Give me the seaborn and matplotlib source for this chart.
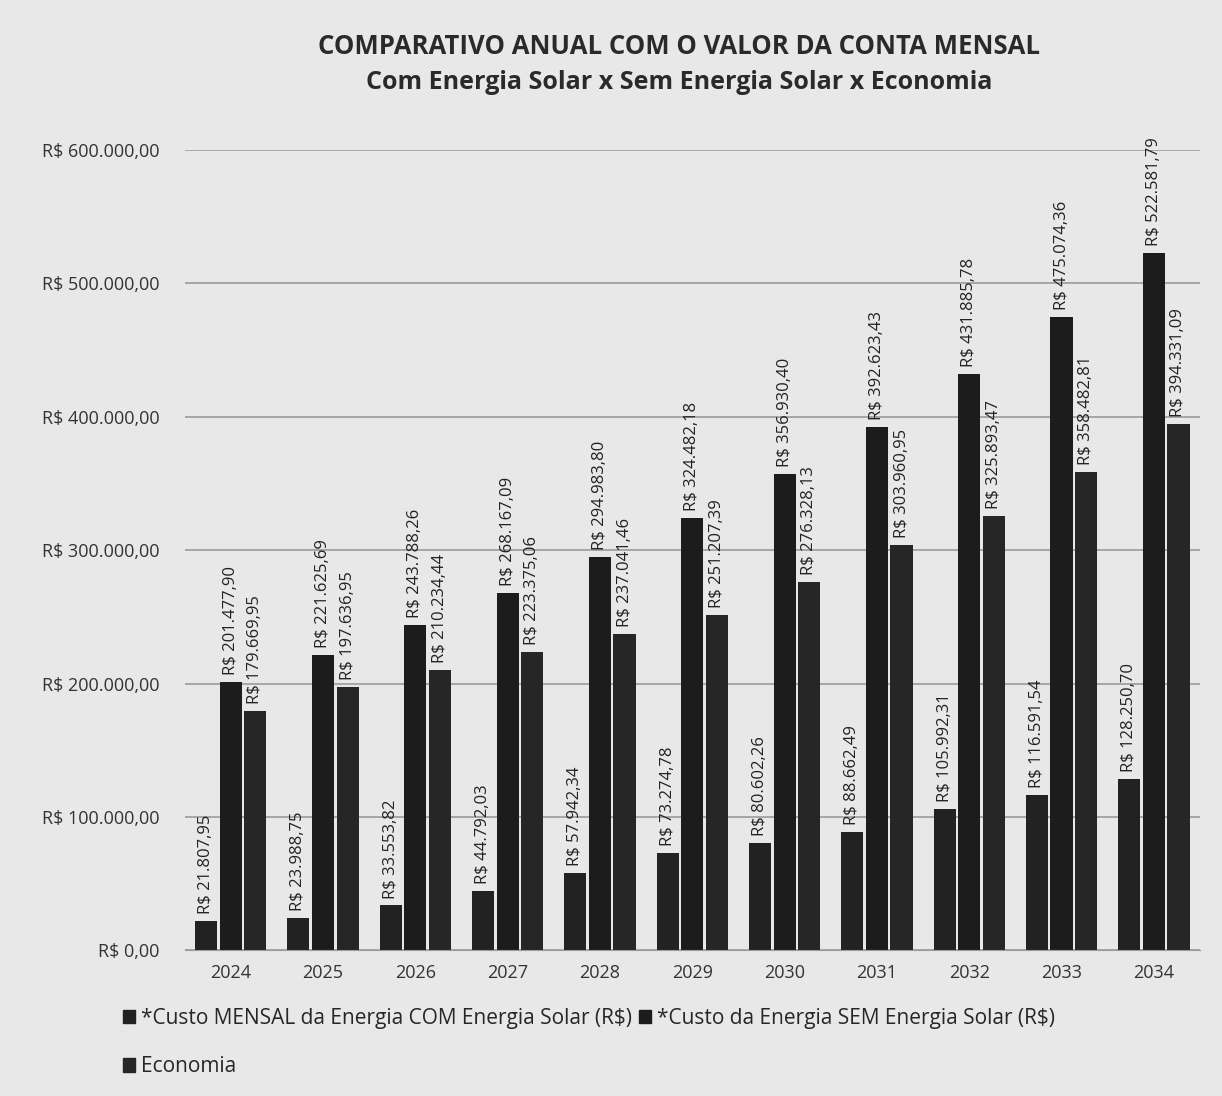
import pandas as pd
import numpy as np
import matplotlib.pyplot as plt
import seaborn as sns

# --------------------
# Data
# --------------------
anos = ["2024", "2025", "2026", "2027", "2028", "2029", "2030", "2031", "2032", "2033", "2034"]
com_solar = [21807.95, 23988.75, 33553.82, 44792.03, 57942.34, 73274.78,
             80602.26, 88662.49, 105992.31, 116591.54, 128250.70]
sem_solar = [201477.90, 221625.69, 243788.26, 268167.09, 294983.80, 324482.18,
             356930.40, 392623.43, 431885.78, 475074.36, 522581.79]
economia = [179669.95, 197636.95, 210234.44, 223375.06, 237041.46, 251207.39,
            276328.13, 303960.95, 325893.47, 358482.81, 394331.09]
series = ["*Custo MENSAL da Energia COM Energia Solar (R$)",
          "*Custo da Energia SEM Energia Solar (R$)",
          "Economia"]

df = pd.DataFrame({
    "Ano": anos * 3,
    "Serie": [series[0]] * len(anos) + [series[1]] * len(anos) + [series[2]] * len(anos),
    "Valor": com_solar + sem_solar + economia,
})


def brl(v):
    s = f"{v:,.2f}"
    return "R$ " + s.replace(",", "X").replace(".", ",").replace("X", ".")


# --------------------
# Plot
# --------------------
sns.set_style("white")
plt.rcParams["font.family"] = ["Open Sans", "DejaVu Sans"]

bg = "#e8e8e8"
fig = plt.figure(figsize=(12.22, 10.96), dpi=100, facecolor=bg)
ax = fig.add_axes([0.151, 0.133, 0.831, 0.73])
ax.set_facecolor(bg)

palette = ["#222222", "#1c1c1c", "#262626"]
sns.barplot(data=df, x="Ano", y="Valor", hue="Serie", palette=palette,
            width=0.8, gap=0.1, linewidth=0, ax=ax, legend=False)

for cont in ax.containers:
    labels = [brl(b.get_height()) for b in cont]
    ax.bar_label(cont, labels=labels, rotation=90, padding=5,
                 fontsize=12, color="#222222", clip_on=False)

ax.set_ylim(0, 600000)
ax.set_yticks(np.arange(0, 600001, 100000))
ax.set_yticklabels(["R$ 0,00" if v == 0 else brl(v) for v in np.arange(0, 600001, 100000)],
                   fontsize=13, color="#333333")
ax.tick_params(axis="x", labelsize=13, colors="#333333", length=0, pad=10)
ax.tick_params(axis="y", length=0, pad=18)
ax.yaxis.grid(True, color="#9a9a9a", linewidth=1.2)
ax.set_axisbelow(True)
ax.set_xlabel("")
ax.set_ylabel("")
for s in ["top", "right", "left"]:
    ax.spines[s].set_visible(False)
ax.spines["bottom"].set_color("#9a9a9a")

fig.text(0.556, 0.958, "COMPARATIVO ANUAL COM O VALOR DA CONTA MENSAL",
         ha="center", va="center", fontsize=18.5, fontweight="bold", color="#2a2a2a")
fig.text(0.556, 0.925, "Com Energia Solar x Sem Energia Solar x Economia",
         ha="center", va="center", fontsize=18, fontweight="bold", color="#2a2a2a")

# legend rows: first two on top, Economia below
handles = [plt.Rectangle((0, 0), 1, 1, color=c) for c in palette]
order = [0, 2, 1]
fig.legend([handles[i] for i in order], [series[i] for i in order],
           ncol=2, loc="lower left", bbox_to_anchor=(0.085, 0.0),
           frameon=False, fontsize=15, handlelength=0.6, handleheight=0.6,
           handletextpad=0.3, columnspacing=0.3, labelspacing=1.3)

fig.savefig("out.png", dpi=100, facecolor=bg)
